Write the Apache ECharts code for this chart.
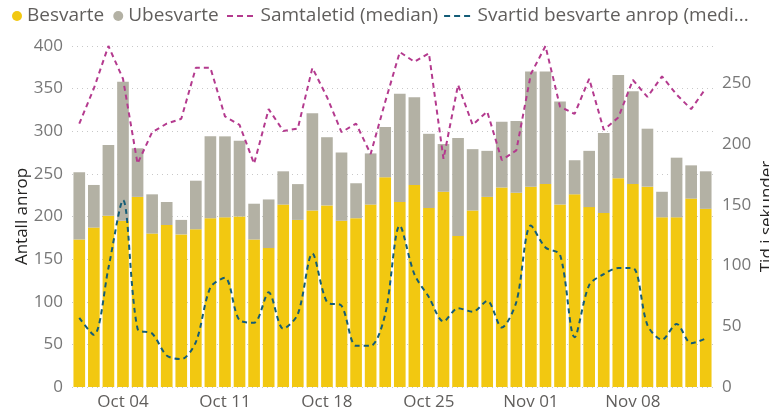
<!DOCTYPE html>
<html>
<head>
<meta charset="utf-8">
<script src="https://cdn.jsdelivr.net/npm/echarts@6/dist/echarts.min.js"></script>
<style>
  html, body { margin: 0; padding: 0; background: #fff; }
  #chart { width: 769px; height: 414px; }
</style>
</head>
<body>
<div id="chart"></div>
<script>
// dager
const dager = [
  'Oct 01', 'Oct 02', 'Oct 03', 'Oct 04', 'Oct 05', 'Oct 06', 'Oct 07', 'Oct 08', 'Oct 09', 'Oct 10',
  'Oct 11', 'Oct 12', 'Oct 13', 'Oct 14', 'Oct 15', 'Oct 16', 'Oct 17', 'Oct 18', 'Oct 19', 'Oct 20',
  'Oct 21', 'Oct 22', 'Oct 23', 'Oct 24', 'Oct 25', 'Oct 26', 'Oct 27', 'Oct 28', 'Oct 29', 'Oct 30',
  'Oct 31', 'Nov 01', 'Nov 02', 'Nov 03', 'Nov 04', 'Nov 05', 'Nov 06', 'Nov 07', 'Nov 08', 'Nov 09',
  'Nov 10', 'Nov 11', 'Nov 12', 'Nov 13'
];
// antall besvarte anrop
const besvarte = [173, 187, 201, 195, 223, 180, 190, 179, 185, 198, 199, 200, 173, 163, 214, 196, 207, 213, 195, 198,
  214, 246, 217, 237, 210, 229, 177, 207, 223, 234, 228, 235, 238, 214, 226, 211, 204, 245, 238, 235, 199, 199, 221, 209];
// antall ubesvarte anrop
const ubesvarte = [79, 50, 83, 163, 57, 46, 27, 17, 57, 96, 95, 89, 42, 57, 39, 42, 114, 80, 80, 41,
  60, 59, 127, 103, 87, 56, 115, 72, 54, 77, 84, 135, 132, 121, 40, 66, 94, 121, 109, 68, 30, 70, 39, 44];
// samtaletid (median), sekunder
const samtaletid = [217, 246, 281, 254, 184, 210, 217, 221, 263, 263, 223, 216, 184, 229, 211, 213, 263, 239, 210, 217,
  192, 235, 276, 268, 275, 188, 249, 216, 227, 187, 195, 258, 281, 231, 225, 254, 212, 222, 253, 239, 256, 241, 229, 246];
// svartid besvarte anrop (median), sekunder
const svartid = [57, 43, 98, 154, 48, 44, 26, 23, 37, 82, 90, 55, 53, 78, 48, 60, 110, 70, 67, 34,
  34, 60, 133, 93, 74, 54, 65, 62, 71, 49, 70, 133, 115, 109, 41, 84, 93, 98, 98, 51, 39, 52, 36, 40];

const font = 'Open Sans';
// stiplet linje som legend-ikon
const dashIcon = 'path://M0,0h6v2h-6z M10,0h6v2h-6z M20,0h6v2h-6z';
const chart = echarts.init(document.getElementById('chart'));

chart.setOption({
  animation: false,
  textStyle: { fontFamily: font },
  color: ['#F2C811', '#B3B1A4', '#B43A8E', '#135C77'],
  legend: [
    {
      left: 12, top: 4, padding: 0,
      itemWidth: 10, itemHeight: 10, itemGap: 9,
      icon: 'circle',
      textStyle: { fontSize: 19, color: '#605E5C', lineHeight: 24 },
      data: ['Besvarte', 'Ubesvarte']
    },
    {
      left: 227, top: 4, padding: 0,
      itemWidth: 27, itemHeight: 2, itemGap: 6,
      icon: dashIcon,
      textStyle: { fontSize: 19, color: '#605E5C', lineHeight: 24, padding: [0, 0, 0, 2] },
      data: [
        'Samtaletid (median)',
        { name: 'Svartid besvarte anrop (median)', textStyle: { width: 278, overflow: 'truncate', ellipsis: '...' } }
      ]
    }
  ],
  grid: { left: 72, right: 56, top: 46, bottom: 27, outerBoundsMode: 'none' },
  xAxis: {
    type: 'category',
    data: dager,
    axisLine: { show: false },
    axisTick: { show: false },
    axisLabel: {
      interval: (i) => (i - 3) % 7 === 0,
      color: '#605E5C', fontSize: 17, margin: 7
    }
  },
  yAxis: [
    {
      type: 'value', min: 0, max: 400, interval: 50,
      name: 'Antall anrop', nameLocation: 'middle', nameGap: 41, nameMoveOverlap: false,
      nameTextStyle: { fontSize: 17, color: '#252423' },
      axisLabel: { color: '#777', fontSize: 17, margin: 9 },
      splitLine: { lineStyle: { type: [1, 4], color: '#C8C8C8' } }
    },
    {
      type: 'value', min: 0, max: 281, interval: 50,
      name: 'Tid i sekunder', nameLocation: 'middle', nameGap: 46, nameMoveOverlap: false,
      nameTextStyle: { fontSize: 17, color: '#252423' },
      axisLabel: { color: '#777', fontSize: 17, margin: 9, showMaxLabel: false },
      splitLine: { show: false }
    }
  ],
  series: [
    {
      name: 'Besvarte', type: 'bar', stack: 'anrop', data: besvarte,
      barCategoryGap: '20%'
    },
    {
      name: 'Ubesvarte', type: 'bar', stack: 'anrop', data: ubesvarte,
      barCategoryGap: '20%'
    },
    {
      name: 'Samtaletid (median)', type: 'line', yAxisIndex: 1, data: samtaletid,
      symbol: 'none', z: 5,
      lineStyle: { type: [5, 4], width: 2 }
    },
    {
      name: 'Svartid besvarte anrop (median)', type: 'line', yAxisIndex: 1, data: svartid,
      symbol: 'none', smooth: 0.3, z: 5,
      lineStyle: { type: [5, 4], width: 2 }
    }
  ]
});
</script>
</body>
</html>
